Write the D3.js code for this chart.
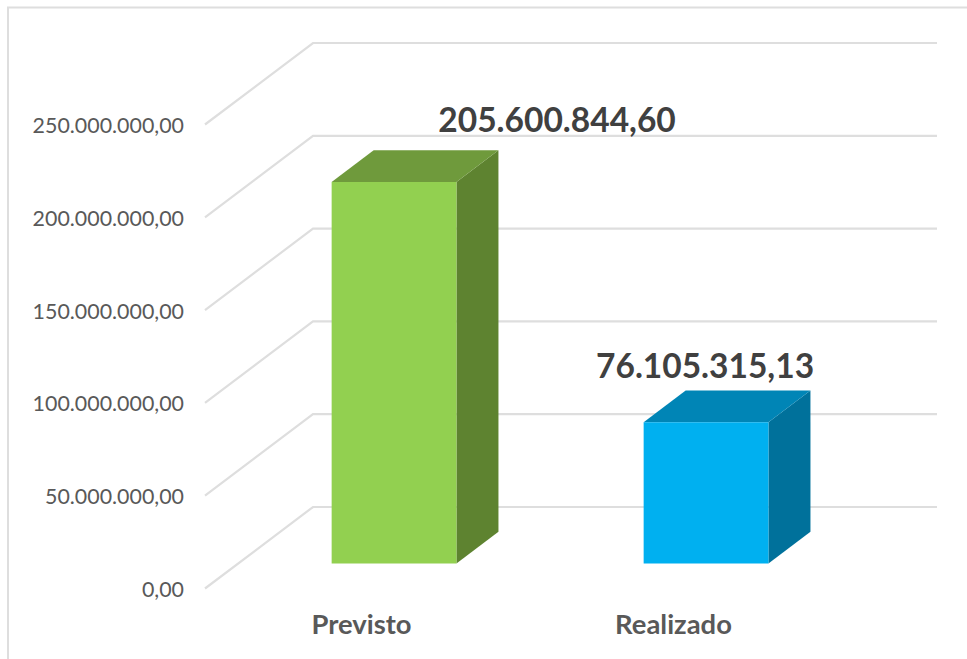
<!DOCTYPE html>
<html lang="en">
<head>
<meta charset="utf-8">
<title>Previsto x Realizado</title>
<style type="text/css">
body { margin: 0; background-color: #fff; }
svg { display: block; }
text { font-family: Lato, "Open Sans", sans-serif; }
.tick-label { fill: #595959; font-size: 21.4px; }
.cat-label { fill: #595959; font-size: 27.4px; font-weight: 700; }
.val-label { fill: #404040; font-size: 33.5px; font-weight: 700; }
</style>
<script src="https://d3js.org/d3.v7.min.js"></script>
</head>
<body>
<div id="chart"></div>
<script>
var categories = ['Previsto', 'Realizado'];
var values = [205600844.60, 76105315.13];
var valueLabels = ['205.600.844,60', '76.105.315,13'];
var tickValues = [0, 50000000, 100000000, 150000000, 200000000, 250000000];
var tickLabels = ['0,00', '50.000.000,00', '100.000.000,00', '150.000.000,00', '200.000.000,00', '250.000.000,00'];
var faceColors = ['#92d050', '#00b0f0'];
var topColors = ['#6f9a3c', '#0085b6'];
var sideColors = ['#5e8330', '#00719b'];

var width = 967, height = 659;

var svg = d3.select('#chart').append('svg')
    .attr('width', width)
    .attr('height', height);

// frame, only top and left edges are visible in the picture
svg.append('path')
    .attr('d', 'M8,659V7.5H967')
    .attr('fill', 'none')
    .attr('stroke', '#dedede')
    .attr('stroke-width', 2);

var yScale = d3.scaleLinear().domain([0, 250000000]).range([588.5, 124.5]);
var xScale = d3.scaleBand().domain(categories).range([0, 624]).paddingInner(0.6).paddingOuter(0.3);

// oblique projection: depth 0 is the front of the floor, 1 the back wall
var originX = 205, depthX = 108, depthY = -81.5;
var barDepth = [0.306, 0.695];

// the data labels were dragged by hand in the original
var labelShiftX = [163, -1];
var labelShiftY = [-18, -13];

function project(x, v, depth) {
    return [originX + x + depth * depthX, yScale(v) + depth * depthY];
}

function poly(points) {
    return 'M' + points.map(function(p) { return p.join(','); }).join('L') + 'Z';
}

// gridlines run along the floor/side wall and then the back wall
svg.selectAll('.grid')
    .data(tickValues)
    .enter()
    .append('path')
    .attr('class', 'grid')
    .attr('fill', 'none')
    .attr('stroke', '#dedede')
    .attr('stroke-width', 2.2)
    .attr('d', function(d) {
        return d3.line()([project(0, d, 0), project(0, d, 1), project(624, d, 1)]);
    });

svg.selectAll('.tick-label')
    .data(tickValues)
    .enter()
    .append('text')
    .attr('class', 'tick-label')
    .attr('x', 184)
    .attr('y', function(d) { return yScale(d) + 8.5; })
    .attr('text-anchor', 'end')
    .text(function(d, i) { return tickLabels[i]; });

var bars = svg.selectAll('.bar')
    .data(categories)
    .enter()
    .append('g')
    .attr('class', 'bar');

bars.each(function(c, i) {
    var g = d3.select(this);
    var x0 = xScale(c), x1 = x0 + xScale.bandwidth(), v = values[i];
    var d0 = barDepth[0], d1 = barDepth[1];

    // side
    g.append('path')
        .attr('fill', sideColors[i])
        .attr('d', poly([project(x1, 0, d0), project(x1, 0, d1), project(x1, v, d1), project(x1, v, d0)]));
    // top
    g.append('path')
        .attr('fill', topColors[i])
        .attr('d', poly([project(x0, v, d0), project(x0, v, d1), project(x1, v, d1), project(x1, v, d0)]));
    // front
    g.append('path')
        .attr('fill', faceColors[i])
        .attr('d', poly([project(x0, 0, d0), project(x1, 0, d0), project(x1, v, d0), project(x0, v, d0)]));
});

svg.selectAll('.val-label')
    .data(categories)
    .enter()
    .append('text')
    .attr('class', 'val-label')
    .attr('x', function(c, i) { return project(xScale(c) + xScale.bandwidth() / 2, 0, barDepth[0])[0] + labelShiftX[i]; })
    .attr('y', function(c, i) { return project(0, values[i], barDepth[1])[1] + labelShiftY[i]; })
    .attr('text-anchor', 'middle')
    .text(function(c, i) { return valueLabels[i]; });

svg.selectAll('.cat-label')
    .data(categories)
    .enter()
    .append('text')
    .attr('class', 'cat-label')
    .attr('x', function(c) { return originX + xScale(c) + xScale.bandwidth() / 2 + 0.5; })
    .attr('y', 634)
    .attr('text-anchor', 'middle')
    .text(function(c) { return c; });
</script>
</body>
</html>
